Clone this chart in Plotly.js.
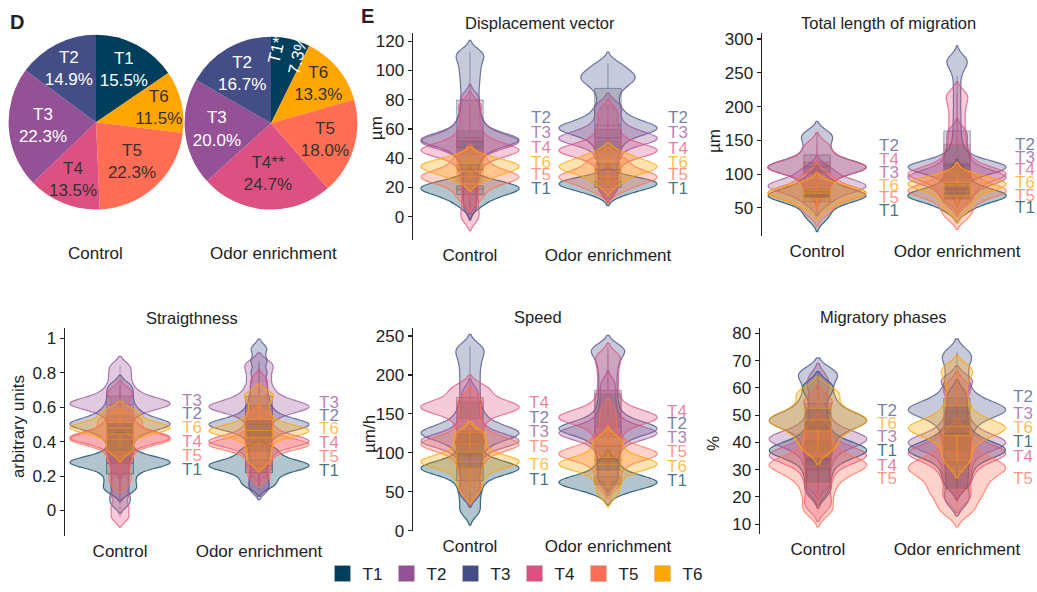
<!DOCTYPE html>
<html>
<head>
<meta charset="utf-8">
<script src="https://cdn.plot.ly/plotly-3.0.1.min.js"></script>
<style>html,body{margin:0;padding:0;background:#fff;}#chart{width:1037px;height:592px;}</style>
</head>
<body>
<div id="chart"></div>
<script>
// ---------------- DATA ----------------
const tNames = ['T1', 'T2', 'T3', 'T4', 'T5', 'T6'];
const categories = ['Control', 'Odor enrichment'];

// Pie (D)
const pieLabels = ['T1', 'T6', 'T5', 'T4', 'T3', 'T2'];
const pieControlValues = [15.5, 11.5, 22.3, 13.5, 22.3, 14.9];
const pieControlText = ['T1', 'T6', 'T5', 'T4', 'T3', 'T2'];
const pieOdorValues = [7.3, 13.3, 18.0, 24.7, 20.0, 16.7];
const pieOdorText = ['T1*', 'T6', 'T5', 'T4**', 'T3', 'T2'];

// Violin samples, order T1..T6
const dispControl = [
  [6, 8.5, 10.5, 12, 13.5, 15, 16, 17, 17.5, 18, 18.5, 19, 19.5, 20, 20, 20.5, 21, 21.5, 22, 23, 24.5, 26],
  [5, 12, 19, 26, 32, 37, 41, 44, 46.5, 48.5, 50, 51, 51.5, 52, 52.5, 53, 53.5, 54, 55, 56.5, 58.5, 61, 64, 67.5, 71.5, 76, 81, 86, 91, 95.5, 100, 104, 108, 111, 113],
  [9, 16, 23, 30, 36, 41, 44.5, 47, 48.5, 49.5, 50.5, 51, 51.5, 52, 53, 54, 55.5, 57.5, 60, 63, 67, 72, 78, 83],
  [-2, 4, 11, 18, 25, 31, 36, 39.5, 42, 43.5, 44.5, 45, 45.5, 46, 47, 48.5, 50.5, 53, 57, 62, 68, 74, 78],
  [11, 14, 18, 21, 23, 24.5, 25.5, 26.5, 27, 27.5, 28, 29, 30, 31.5, 34, 37, 40, 42],
  [25, 27, 29.5, 31.5, 32.5, 33.5, 34, 34.5, 35, 36, 37.5, 39.5, 40]
];
const dispOdor = [
  [15, 16.5, 18.5, 20, 21, 21.5, 22, 22.5, 23, 23.5, 24, 24.5, 25.5, 26],
  [17, 22, 28, 34, 40, 45, 49, 52.5, 55, 57, 58.5, 59.5, 60, 60.5, 61, 62, 63, 64.5, 66.5, 69, 72, 76, 81, 86, 89.5, 92, 94, 95.5, 97, 99, 102, 105],
  [20, 26, 32, 38, 43, 47, 50, 51.5, 52.5, 53, 53.5, 54, 55, 56.5, 58.5, 61, 64.5, 69, 74, 77],
  [17, 23, 29, 34, 38, 41, 43, 44, 44.5, 45, 45.5, 46, 47, 48.5, 50.5, 53.5, 57.5, 62, 68, 73],
  [17, 19.5, 22, 24, 25.5, 26.5, 27, 27.5, 28, 29, 30.5, 33, 36, 39, 40],
  [22, 25, 28, 30.5, 32, 33, 33.5, 34, 34.5, 35, 36, 37.5, 40, 42, 43]
];
const lengthControl = [
  [32, 38, 45, 51, 56, 60, 63, 65, 66.5, 67.5, 68, 68.5, 69, 70, 71.5, 73.5, 76.5, 80.5, 86, 92, 95],
  [70, 77, 85, 92, 98, 102, 105.5, 107.5, 109, 110, 110.5, 111, 112, 113.5, 116, 119.5, 124, 130, 137, 145, 153, 158, 161],
  [55, 60, 66, 71, 75, 78, 80, 81, 82, 82.5, 83, 84, 85.5, 88, 91.5, 96, 101, 107, 110],
  [70, 77, 85, 92, 98, 102, 105.5, 107.5, 109, 110, 110.5, 111, 112, 113.5, 116, 120, 126, 133, 140, 145],
  [40, 45, 51, 57, 62, 66, 68.5, 70, 71, 72, 72.5, 73, 74, 75.5, 78, 81.5, 86, 92, 98, 100],
  [50, 54, 59, 63.5, 67, 69.5, 71, 72, 72.5, 73, 74, 75.5, 78, 82, 85]
];
const lengthOdor = [
  [45, 50, 56, 60.5, 64, 66, 67, 68, 68.5, 69, 70, 71.5, 74, 78, 84, 91, 99, 105],
  [68, 76, 84, 90, 95, 99, 102, 104, 105.5, 107, 108, 109, 109.5, 110, 110.5, 111, 111.5, 112, 113, 114, 115.5, 117.5, 120, 124, 129, 136, 146, 160, 176, 193, 211, 229, 246, 258, 264, 269, 273],
  [60, 66, 73, 79, 84, 88, 91, 93, 94.5, 95.5, 96.5, 98, 100, 103.5, 108, 114, 122, 132, 143, 155, 165],
  [55, 62, 70, 77, 83, 88, 92, 95.5, 98, 99.5, 100.5, 101.5, 103, 105.5, 109, 114, 121, 130, 141, 154, 168, 183, 198, 211, 220],
  [35, 42, 50, 57, 63, 68, 71, 73, 74.5, 75.5, 76.5, 78, 80.5, 84, 89, 95, 100],
  [45, 51, 58, 64.5, 70, 75, 79, 82, 84, 85, 85.5, 86, 87, 88.5, 91, 95, 100]
];
const straightControl = [
  [0.11, 0.13, 0.16, 0.19, 0.22, 0.245, 0.26, 0.27, 0.275, 0.28, 0.285, 0.29, 0.30, 0.315, 0.34, 0.38, 0.41],
  [0.04, 0.09, 0.15, 0.21, 0.27, 0.32, 0.37, 0.41, 0.44, 0.465, 0.48, 0.49, 0.5, 0.505, 0.51, 0.52, 0.535, 0.555, 0.58, 0.61, 0.65, 0.69, 0.73],
  [0.24, 0.3, 0.37, 0.43, 0.48, 0.53, 0.565, 0.59, 0.605, 0.615, 0.62, 0.625, 0.635, 0.65, 0.67, 0.70, 0.74, 0.79, 0.84],
  [-0.04, 0.02, 0.09, 0.16, 0.23, 0.29, 0.34, 0.38, 0.40, 0.41, 0.42, 0.425, 0.43, 0.44, 0.455, 0.48, 0.51, 0.55, 0.60, 0.66, 0.70],
  [0.16, 0.21, 0.27, 0.32, 0.36, 0.385, 0.40, 0.41, 0.415, 0.42, 0.43, 0.445, 0.47, 0.50, 0.53, 0.54],
  [0.34, 0.37, 0.41, 0.44, 0.46, 0.47, 0.475, 0.48, 0.485, 0.49, 0.5, 0.515, 0.54, 0.57, 0.58]
];
const straightOdor = [
  [0.14, 0.16, 0.19, 0.215, 0.235, 0.25, 0.255, 0.26, 0.265, 0.27, 0.28, 0.295, 0.32, 0.35, 0.36],
  [0.12, 0.17, 0.23, 0.29, 0.34, 0.39, 0.43, 0.46, 0.48, 0.49, 0.495, 0.5, 0.505, 0.515, 0.53, 0.55, 0.58, 0.62, 0.67, 0.73, 0.80, 0.87, 0.94],
  [0.14, 0.2, 0.27, 0.34, 0.41, 0.47, 0.52, 0.555, 0.58, 0.59, 0.6, 0.605, 0.615, 0.63, 0.65, 0.68, 0.72, 0.77, 0.82, 0.86],
  [0.22, 0.26, 0.30, 0.34, 0.37, 0.385, 0.395, 0.40, 0.405, 0.41, 0.42, 0.435, 0.46, 0.49, 0.53, 0.58, 0.64, 0.70, 0.76],
  [0.19, 0.23, 0.28, 0.32, 0.35, 0.37, 0.375, 0.38, 0.385, 0.39, 0.40, 0.415, 0.44, 0.48, 0.53, 0.56],
  [0.28, 0.32, 0.36, 0.40, 0.43, 0.45, 0.455, 0.46, 0.465, 0.47, 0.48, 0.495, 0.52, 0.56, 0.61, 0.66, 0.68]
];
const speedControl = [
  [22, 30, 40, 49, 57, 64, 70, 74, 77, 78.5, 79.5, 80, 80.5, 81.5, 83, 85.5, 89, 94, 101, 110, 117, 120],
  [45, 55, 67, 79, 90, 100, 108, 114, 118.5, 121.5, 123.5, 125, 126, 127.5, 130, 133.5, 138, 144, 152, 162, 174, 186, 198, 210, 221, 230, 237],
  [50, 60, 72, 83, 92, 100, 106, 110, 112.5, 114, 115, 115.5, 116.5, 118, 120.5, 124, 129, 136, 145, 156, 168, 180],
  [110, 118, 127, 135, 142, 148, 152.5, 155.5, 157, 158, 158.5, 159.5, 161, 163.5, 167, 172, 178, 183, 185],
  [48, 58, 70, 80, 89, 96, 102, 106, 108.5, 110, 110.5, 111.5, 113, 115.5, 119, 124, 131, 140, 151, 163, 170],
  [50, 57, 65, 72, 78, 82.5, 85.5, 87, 88, 88.5, 89, 90, 91.5, 94, 98, 104, 111, 118, 124, 125]
];
const speedOdor = [
  [48, 51, 55, 58, 60, 61, 61.5, 62, 62.5, 63, 64, 65.5, 68, 72, 77, 84, 90],
  [65, 75, 87, 98, 108, 116, 122, 126, 128.5, 130, 131, 132, 133.5, 136, 140, 146, 154, 165, 177, 190, 203, 215, 225, 232, 236],
  [60, 70, 82, 93, 102, 110, 116, 120, 122.5, 124, 125, 125.5, 126.5, 128, 131, 135, 141, 150, 162, 176, 190],
  [100, 108, 117, 125, 132, 137.5, 141, 143, 144.5, 145.5, 146.5, 148, 150.5, 154, 159, 166, 176, 187, 198, 209, 219, 226],
  [55, 63, 72, 80, 87, 92, 95, 97, 98, 98.5, 99.5, 101, 103.5, 107, 112, 119, 129, 142, 155],
  [45, 53, 62, 70, 76, 80.5, 83, 84.5, 85, 85.5, 86.5, 88, 90.5, 94, 99, 106, 114, 118]
];
const migControl = [
  [21, 24, 27.5, 30.5, 33, 35, 36, 36.5, 37, 37.5, 38, 39, 40.5, 43, 46.5, 51, 56, 60, 61],
  [22, 26, 30.5, 34.5, 38, 41, 43.5, 45.5, 47, 47.5, 48, 48.5, 49.5, 51, 53, 55.5, 58.5, 62, 65, 66],
  [24, 27, 31, 34, 36.5, 38.5, 40, 40.5, 41, 41.5, 42, 43, 44.5, 47, 50.5, 55, 60, 64],
  [16, 19, 23, 26.5, 29.5, 32, 33.5, 34.5, 35, 35.5, 36, 37, 38.5, 41, 44.5, 49, 54, 56],
  [14, 16, 19, 21.5, 24, 26, 27.5, 29, 30, 31, 31.5, 32, 32.5, 33, 34, 35.5, 37.5, 40.5, 44, 46],
  [37, 39, 41.5, 43.5, 45, 46.5, 47.5, 48, 48.5, 49, 50, 51.5, 53.5, 56, 58.5, 59]
];
const migOdor = [
  [24, 27, 30, 32.5, 34.5, 36, 36.5, 37, 37.5, 38, 39, 40.5, 42.5, 45.5, 49.5, 54, 58],
  [18, 22, 27, 31.5, 36, 40, 43.5, 46.5, 49, 50.5, 51.5, 52, 52.5, 53.5, 55, 57.5, 61, 65.5, 70, 73],
  [24, 27, 30.5, 33.5, 36, 38, 39, 39.5, 40, 40.5, 41.5, 43, 45, 48, 52, 57, 62, 63],
  [19, 22, 26, 29, 31.5, 33.5, 35, 35.5, 36, 36.5, 37.5, 39, 41, 44, 48, 53, 58, 61],
  [14, 16, 18.5, 20.5, 22, 23.5, 25, 26.5, 28, 29, 30, 30.5, 31, 32, 33, 34, 35.5, 38, 41.5, 44],
  [32, 35, 38, 40.5, 42.5, 44, 44.5, 45, 45.5, 46, 47, 48.5, 50.5, 53.5, 57.5, 62, 66, 67]
];

// Group labels beside each violin stack
const dispLabelOrder = ['T2', 'T3', 'T4', 'T6', 'T5', 'T1'];
const dispLabelYControl = [68, 57.6, 47, 37.2, 28.8, 19.5];
const dispLabelYOdor = [68, 57.6, 46.5, 37, 28.5, 19.5];
const lengthLabelOrderControl = ['T2', 'T4', 'T3', 'T6', 'T5', 'T1'];
const lengthLabelYControl = [142, 121.5, 102, 83, 64.7, 46.5];
const lengthLabelOrderOdor = ['T2', 'T3', 'T4', 'T6', 'T5', 'T1'];
const lengthLabelYOdor = [144.6, 125, 106.8, 88, 68.5, 50];
const straightLabelOrder = ['T3', 'T2', 'T6', 'T4', 'T5', 'T1'];
const straightLabelYControl = [0.639, 0.561, 0.485, 0.402, 0.321, 0.238];
const straightLabelYOdor = [0.629, 0.552, 0.475, 0.394, 0.312, 0.235];
const speedLabelOrder = ['T4', 'T2', 'T3', 'T5', 'T6', 'T1'];
const speedLabelYControl = [165, 145, 126.7, 108.4, 85, 65.8];
const speedLabelYOdor = [153.4, 137.3, 119.4, 102, 82.9, 64.2];
const migLabelOrderControl = ['T2', 'T6', 'T3', 'T1', 'T4', 'T5'];
const migLabelYControl = [51.7, 46.8, 42, 36.9, 31.6, 26.8];
const migLabelOrderOdor = ['T2', 'T3', 'T6', 'T1', 'T4', 'T5'];
const migLabelYOdor = [56.8, 50.7, 45.6, 40.4, 34.7, 26.8];

// ---------------- STYLE ----------------
const FONT = 'Liberation Sans, Arial, sans-serif';
const rgb = {
  T1: [0, 63, 92], T2: [68, 78, 134], T3: [149, 81, 150],
  T4: [221, 81, 130], T5: [255, 110, 84], T6: [255, 166, 0]
};
const legendColors = { T1: '#003f5c', T2: '#955196', T3: '#444e86', T4: '#dd5182', T5: '#ff6e54', T6: '#ffa600' };
const rgba = (t, a) => `rgba(${rgb[t][0]},${rgb[t][1]},${rgb[t][2]},${a})`;
const pieColor = t => `rgb(${rgb[t].join(',')})`;

const traces = [];

// pies
const pieTextColors = ['#ffffff', '#333333', '#333333', '#333333', '#ffffff', '#ffffff'];
const pieTpl = '%{text}<br>%{value:.1f}%';
const ctrlDomain = { x: [8 / 1037, 184 / 1037], y: [1 - 211 / 592, 1 - 35 / 592] };
const odorDomain = { x: [184 / 1037, 358 / 1037], y: [1 - 211 / 592, 1 - 37 / 592] };
traces.push({
  type: 'pie', labels: pieLabels, values: pieControlValues, text: pieControlText,
  texttemplate: pieTpl, textposition: 'inside', insidetextorientation: 'horizontal',
  sort: false, direction: 'clockwise', rotation: 0,
  marker: { colors: pieLabels.map(pieColor), line: { width: 0 } },
  textfont: { family: FONT, size: 17, color: pieTextColors },
  domain: ctrlDomain, showlegend: false, hoverinfo: 'skip'
});
// odor pie: horizontal labels for all slices except the narrow first one
traces.push({
  type: 'pie', labels: pieLabels, values: pieOdorValues, text: pieOdorText,
  texttemplate: pieLabels.map((l, i) => i === 0 ? '' : pieTpl), textposition: 'inside', insidetextorientation: 'horizontal',
  sort: false, direction: 'clockwise', rotation: 0,
  marker: { colors: pieLabels.map(pieColor), line: { width: 0 } },
  textfont: { family: FONT, size: 17, color: pieTextColors },
  domain: odorDomain, showlegend: false, hoverinfo: 'skip'
});
// transparent overlay carrying only the radial label of the narrow slice
traces.push({
  type: 'pie', labels: pieLabels, values: pieOdorValues, text: pieOdorText,
  texttemplate: pieLabels.map((l, i) => i === 0 ? pieTpl : ''), textposition: 'inside', insidetextorientation: 'radial',
  sort: false, direction: 'clockwise', rotation: 0,
  marker: { colors: pieLabels.map(() => 'rgba(0,0,0,0)'), line: { width: 0 } },
  textfont: { family: FONT, size: 17, color: pieTextColors },
  domain: odorDomain, showlegend: false, hoverinfo: 'skip'
});

// violins
const panels = [
  { ax: '', ctrl: dispControl, odor: dispOdor, bw: 3.8, width: 0.71 },
  { ax: '2', ctrl: lengthControl, odor: lengthOdor, bw: 8.5, width: 0.7 },
  { ax: '3', ctrl: straightControl, odor: straightOdor, bw: 0.028, width: 0.72 },
  { ax: '4', ctrl: speedControl, odor: speedOdor, bw: 7.5, width: 0.71 },
  { ax: '5', ctrl: migControl, odor: migOdor, bw: 2.5, width: 0.7 }
];
panels.forEach(p => {
  [p.ctrl, p.odor].forEach((groups, ci) => {
    groups.forEach((samples, ti) => {
      const t = tNames[ti];
      traces.push({
        type: 'violin', y: samples, x0: ci, name: t + ' ' + categories[ci],
        xaxis: 'x' + p.ax, yaxis: 'y' + p.ax,
        width: p.width, spanmode: 'soft', bandwidth: p.bw, scalemode: 'width', side: 'both',
        fillcolor: rgba(t, 0.3), line: { color: rgba(t, 0.75), width: 1.2 },
        box: { visible: true, width: 0.27, fillcolor: 'rgba(80,80,80,0.2)', line: { color: rgba(t, 0.5), width: 1 } },
        meanline: { visible: false }, points: false, showlegend: false, hoverinfo: 'skip'
      });
    });
  });
});

// legend entries
tNames.forEach(t => {
  traces.push({
    type: 'scatter', mode: 'markers', x: [null], y: [null], name: t, xaxis: 'x', yaxis: 'y',
    marker: { symbol: 'square', size: 16, color: legendColors[t], line: { color: '#bbbbbb', width: 0.5 } },
    showlegend: true, hoverinfo: 'skip'
  });
});

// axes
const W = 1037, H = 592;
const px = v => v / W, py = v => 1 - v / H;
function yax(top, bottom, range, dtick, anchor) {
  return {
    domain: [py(bottom), py(top)], range: range, dtick: dtick, tick0: 0, anchor: anchor,
    showline: true, linecolor: '#222', linewidth: 1.5, ticks: 'outside', ticklen: 4, tickwidth: 1.2, tickcolor: '#222',
    showgrid: false, zeroline: false, tickfont: { family: FONT, size: 17, color: '#222' }, fixedrange: true
  };
}
function xax(left, right, range, anchor) {
  return {
    domain: [px(left), px(right)], range: range, anchor: anchor,
    tickvals: [0, 1], ticktext: categories, ticks: '', showline: false, showgrid: false, zeroline: false,
    ticklabelstandoff: 3,
    tickfont: { family: FONT, size: 17, color: '#222' }, fixedrange: true
  };
}

const layout = {
  width: W, height: H, margin: { l: 0, r: 0, t: 0, b: 0 },
  paper_bgcolor: '#fff', plot_bgcolor: 'rgba(0,0,0,0)',
  font: { family: FONT, color: '#222' },
  violinmode: 'overlay', violingap: 0,
  uniformtext: { mode: 'show', minsize: 17 },
  xaxis: xax(413, 700, [-0.413, 1.667], 'y'),
  yaxis: yax(33, 242, [-16.3, 125.85], 20, 'x'),
  xaxis2: xax(762, 1037, [-0.393, 1.571], 'y2'),
  yaxis2: yax(33, 238, [7.8, 309.3], 50, 'x2'),
  xaxis3: xax(65, 345, [-0.396, 1.619], 'y3'),
  yaxis3: yax(330.7, 540, [-0.15, 1.058], 0.2, 'x3'),
  xaxis4: xax(413, 700, [-0.413, 1.667], 'y4'),
  yaxis4: yax(330, 535, [-1, 260.6], 50, 'x4'),
  xaxis5: xax(760, 1037, [-0.417, 1.576], 'y5'),
  yaxis5: yax(330.7, 537.3, [6.5, 81.8], 10, 'x5'),
  showlegend: true,
  legend: {
    orientation: 'h', x: 0.311, xanchor: 'left', y: py(578), yanchor: 'middle',
    font: { family: FONT, size: 17, color: '#222' }, entrywidth: 19, itemclick: false, itemdoubleclick: false,
    bgcolor: 'rgba(0,0,0,0)'
  },
  annotations: []
};

const ann = layout.annotations;
function txt(x, y, text, size, opts) {
  ann.push(Object.assign({ xref: 'paper', yref: 'paper', x: px(x), y: py(y), text: text, showarrow: false,
    font: { family: FONT, size: size, color: '#222' }, xanchor: 'center', yanchor: 'middle' }, opts || {}));
}
txt(17, 22, '<b>D</b>', 20);
txt(367, 16, '<b>E</b>', 20);
txt(95, 255, 'Control', 17);
txt(273, 255, 'Odor enrichment', 17);
txt(540, 22.7, 'Displacement vector', 16.5);
txt(888, 22.7, 'Total length of migration', 16.5);
txt(192, 320, 'Straigthness', 16.5);
txt(538, 319, 'Speed', 16.5);
txt(883, 319, 'Migratory phases', 16.5);
txt(376, 129, 'µm', 17, { textangle: -90 });
txt(714, 142, 'µm', 17, { textangle: -90 });
txt(18, 430, 'arbitrary units', 17, { textangle: -90 });
txt(369, 437, 'µm/h', 17, { textangle: -90 });
txt(714, 447, '%', 17, { textangle: -90 });

function groupLabels(ax, xpos, order, ys) {
  order.forEach((t, i) => {
    ann.push({ xref: 'x' + ax, yref: 'y' + ax, x: xpos, y: ys[i], text: t, showarrow: false,
      xanchor: 'left', yanchor: 'middle', font: { family: FONT, size: 17, color: rgba(t, 0.72) } });
  });
}
groupLabels('', 0.43, dispLabelOrder, dispLabelYControl);
groupLabels('', 1.42, dispLabelOrder, dispLabelYOdor);
groupLabels('2', 0.43, lengthLabelOrderControl, lengthLabelYControl);
groupLabels('2', 1.40, lengthLabelOrderOdor, lengthLabelYOdor);
groupLabels('3', 0.43, straightLabelOrder, straightLabelYControl);
groupLabels('3', 1.42, straightLabelOrder, straightLabelYOdor);
groupLabels('4', 0.41, speedLabelOrder, speedLabelYControl);
groupLabels('4', 1.41, speedLabelOrder, speedLabelYOdor);
groupLabels('5', 0.41, migLabelOrderControl, migLabelYControl);
groupLabels('5', 1.39, migLabelOrderOdor, migLabelYOdor);

Plotly.newPlot('chart', traces, layout, { staticPlot: true, displayModeBar: false });
</script>
</body>
</html>
